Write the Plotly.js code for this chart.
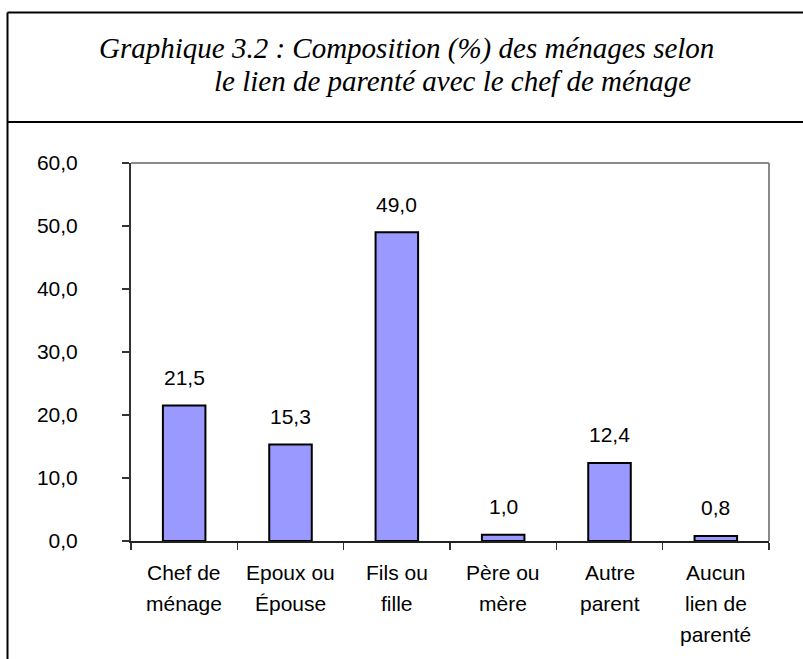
<!DOCTYPE html>
<html>
<head>
<meta charset="utf-8">
<script src="https://cdn.plot.ly/plotly-3.0.1.min.js"></script>
<style>
  html, body { margin: 0; padding: 0; background: #fff; }
  #chart { width: 803px; height: 659px; }
</style>
</head>
<body>
<div id="chart"></div>
<script>
const categories = ['Chef de ménage', 'Epoux ou Épouse', 'Fils ou fille', 'Père ou mère', 'Autre parent', 'Aucun lien de parenté'];
const labelLines = [['Chef de', 'ménage'], ['Epoux ou', 'Épouse'], ['Fils ou', 'fille'], ['Père ou', 'mère'], ['Autre', 'parent'], ['Aucun', 'lien de', 'parenté']];
const values = [21.5, 15.3, 49.0, 1.0, 12.4, 0.8];
const yTicks = [0, 10, 20, 30, 40, 50, 60];
const titleLines = ['Graphique 3.2 : Composition (%) des ménages selon', 'le lien de parenté avec le chef de ménage'];

const L = 131, R = 34, T = 163, B = 118, W = 803, H = 659;
const pw = W - L - R, ph = H - T - B;
const px = x => (x - L) / pw;
const py = y => (H - B - y) / ph;

const fmt = v => v.toFixed(1).replace('.', ',');
const labelFont = { family: 'Liberation Sans, Arial, sans-serif', size: 21, color: '#000' };

const annotations = [];
values.forEach((v, i) => {
  annotations.push({
    x: categories[i], y: v, xref: 'x', yref: 'y',
    text: fmt(v), showarrow: false, yanchor: 'middle', yshift: 28,
    font: labelFont
  });
});
labelLines.forEach((lines, i) => {
  lines.forEach((t, j) => {
    annotations.push({
      x: categories[i], y: 0, xref: 'x', yref: 'paper',
      text: t, showarrow: false, yanchor: 'middle', yshift: -31 - 31 * j,
      font: labelFont
    });
  });
});
const titleFont = { family: 'Liberation Serif, Times New Roman, serif', size: 29, color: '#000' };
annotations.push({
  x: px(97), y: py(49), xref: 'paper', yref: 'paper', xanchor: 'left', yanchor: 'middle',
  text: '<i>' + titleLines[0] + '</i>', showarrow: false, font: titleFont
});
annotations.push({
  x: px(212), y: py(81), xref: 'paper', yref: 'paper', xanchor: 'left', yanchor: 'middle',
  text: '<i>' + titleLines[1] + '</i>', showarrow: false, font: titleFont
});

const shapes = [
  // outer frame (left, top) and title divider
  { type: 'line', xref: 'paper', yref: 'paper', x0: px(7.5), x1: px(7.5), y0: py(12.5), y1: py(700), line: { color: '#000', width: 2 } },
  { type: 'line', xref: 'paper', yref: 'paper', x0: px(7.5), x1: px(830), y0: py(12.5), y1: py(12.5), line: { color: '#000', width: 2 } },
  { type: 'line', xref: 'paper', yref: 'paper', x0: px(7.5), x1: px(830), y0: py(122), y1: py(122), line: { color: '#000', width: 2 } },
  // plot-area border top & right (gray)
  { type: 'line', xref: 'paper', yref: 'paper', x0: 0, x1: 1, y0: 1, y1: 1, line: { color: '#8a8a8a', width: 2 } },
  { type: 'line', xref: 'paper', yref: 'paper', x0: 1, x1: 1, y0: 0, y1: 1, line: { color: '#8a8a8a', width: 2 } }
];

const trace = {
  type: 'bar',
  x: categories,
  y: values,
  width: 0.4,
  marker: { color: '#9999FF', line: { color: '#000', width: 2 } },
  hoverinfo: 'skip'
};

const layout = {
  width: W, height: H,
  margin: { l: L, r: R, t: T, b: B, pad: 0 },
  paper_bgcolor: '#fff', plot_bgcolor: '#fff',
  separators: ', ',
  showlegend: false,
  xaxis: {
    type: 'category',
    showticklabels: false,
    ticks: 'outside', tickson: 'boundaries', ticklen: 7, tickwidth: 1.5, tickcolor: '#333',
    showline: true, linecolor: '#222', linewidth: 2,
    showgrid: false, zeroline: false, fixedrange: true
  },
  yaxis: {
    range: [0, 60],
    tickvals: yTicks,
    tickformat: '.1f',
    ticks: 'outside', ticklen: 7, tickwidth: 1.5, tickcolor: '#333',
    ticklabelstandoff: 40,
    tickfont: labelFont,
    showline: true, linecolor: '#333', linewidth: 2,
    showgrid: false, zeroline: false, fixedrange: true
  },
  annotations: annotations,
  shapes: shapes
};

Plotly.newPlot('chart', [trace], layout, { staticPlot: true, displayModeBar: false });
</script>
</body>
</html>
